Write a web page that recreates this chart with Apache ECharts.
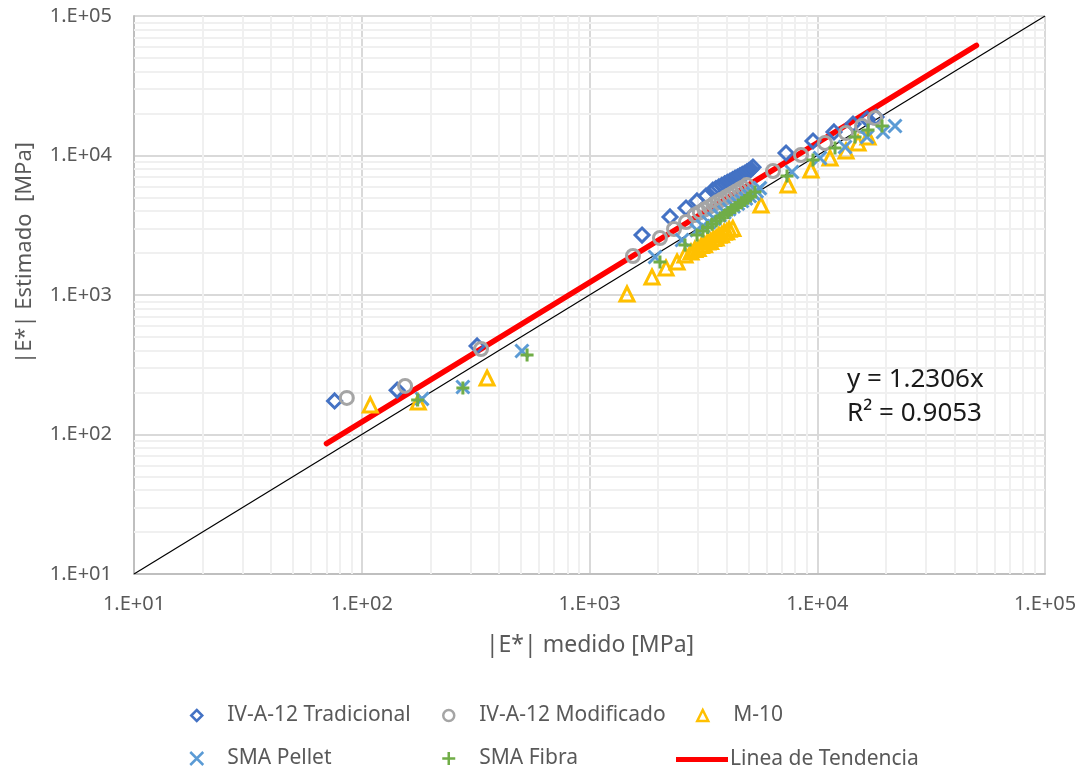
<!DOCTYPE html>
<html>
<head>
<meta charset="utf-8">
<script src="https://cdn.jsdelivr.net/npm/echarts@6/dist/echarts.min.js"></script>
<style>html,body{margin:0;padding:0;background:#fff}#c{width:1081px;height:773px}</style>
</head>
<body>
<div id="c"></div>
<script>
// ---- data ([|E*| medido, |E*| estimado] in MPa) ----
const tradicional = [
  [76,174],[143,208],[321,431],
  [1701,2692],[2257,3624],[2653,4204],[2965,4720],[3247,5125],
  [3480,5640],[3590,5800],[3700,5950],[3810,6110],[3920,6260],[4030,6420],[4140,6560],[4250,6720],
  [4360,6870],[4470,7010],[4580,7160],[4690,7310],[4800,7460],[4910,7620],[5010,7780],[5110,7950],[5220,8250],
  [7293,10421],[9580,12704],[11845,14742],[14354,16820],[16540,18260],[18115,18880]
];
const modificado = [
  [86,183],[155,223],[334,410],
  [1552,1904],[2039,2562],[2350,2972],[2653,3337],
  [2900,3740],[3050,3920],[3200,4100],[3350,4280],[3500,4460],[3650,4640],[3800,4820],[3950,4990],
  [4100,5170],[4250,5340],[4400,5520],[4550,5700],[4700,5880],[4900,6140],
  [6393,7745],[8484,10083],[10815,12290],[13374,14500],[15730,16270],[17930,18570]
];
const m10 = [
  [109,163],[177,171],[355,254],
  [1461,1017],[1881,1346],[2167,1561],[2423,1724],[2626,1935],[2790,2033],
  [2900,2120],[3000,2150],[3100,2260],[3200,2290],[3300,2400],[3400,2420],[3500,2540],[3600,2560],
  [3700,2680],[3800,2700],[3900,2820],[4000,2840],[4100,2960],[4260,3000],
  [5662,4418],
  [7442,6145],[9389,7875],[11376,9597],[13374,10773],[15100,12290],[16710,13570]
];
const smaPellet = [
  [184,180],[278,219],[505,397],
  [1940,1873],[2548,2480],
  [2960,2920],[3150,3120],[3340,3320],[3530,3520],[3720,3720],[3910,3920],[4100,4120],[4290,4320],
  [4480,4520],[4670,4720],[4860,4920],[5050,5120],[5240,5330],[5420,5540],[5600,5840],
  [7748,7617],[10283,9597],[13240,11510],[16540,13570],[19444,14742],[21950,16270]
];
const smaFibra = [
  [176,177],[278,215],[532,372],
  [2039,1724],[2626,2282],[2965,2692],
  [3150,2880],[3300,3050],[3450,3220],[3600,3390],[3750,3560],[3900,3730],[4050,3900],[4200,4070],
  [4350,4240],[4500,4410],[4650,4580],[4800,4750],[4950,4930],[5100,5130],[5330,5470],
  [7367,7129],[9580,9284],[11966,11320],[14650,13570],[16710,15230],[19250,16270]
];
const trendLine = [[70,86],[50000,61530]];          // y = 1.2306x
const identityLine = [[10,10],[100000,100000]];      // y = x
const tickLabels = ['1.E+01','1.E+02','1.E+03','1.E+04','1.E+05'];
const minorGrid = [20,30,40,50,60,70,80,90,200,300,400,500,600,700,800,900,
  2000,3000,4000,5000,6000,7000,8000,9000,20000,30000,40000,50000,60000,70000,80000,90000];
const seriesNames = ['IV-A-12 Tradicional','IV-A-12 Modificado','M-10','SMA Pellet','SMA Fibra','Linea de Tendencia'];

const FONT = 'Noto Sans';
const GREY = '#595959';
const crossPath = 'path://M0,0L10,10M10,0L0,10';
const plusPath = 'path://M5,0L5,10M0,5L10,5';

function fmt(v){ const i = Math.round(Math.log10(v)) - 1; return tickLabels[i] || ''; }

function scatter(name, data, symbol, color, size, bw){
  return {
    name, type:'scatter', data, symbol, symbolSize:size, z:5,
    itemStyle:{color:'rgba(255,255,255,0)', borderColor:color, borderWidth:bw, opacity:1},
    emphasis:{disabled:true}, animation:false
  };
}

const minorLines = [];
minorGrid.forEach(v => { minorLines.push({xAxis:v}); minorLines.push({yAxis:v}); });

function legendAt(name, left, top, extra){
  return Object.assign({
    data:[name], left, top, padding:0, itemWidth:11, itemHeight:11,
    selectedMode:false,
    itemStyle:{borderWidth:2.5},
    textStyle:{fontFamily:FONT, fontSize:21, color:GREY, padding:[0,0,0,20]}
  }, extra || {});
}

const option = {
  animation:false,
  grid:{left:134, right:36, top:16, bottom:199},
  xAxis:{
    type:'log', logBase:10, min:10, max:100000,
    axisLine:{lineStyle:{color:'#bfbfbf', width:2}},
    axisTick:{show:false},
    axisLabel:{formatter:fmt, fontFamily:FONT, fontSize:20, color:GREY, margin:20},
    splitLine:{show:true, lineStyle:{color:'#d9d9d9', width:2}}
  },
  yAxis:{
    type:'log', logBase:10, min:10, max:100000,
    axisLine:{show:true, lineStyle:{color:'#bfbfbf', width:2}},
    axisTick:{show:false},
    axisLabel:{formatter:fmt, fontFamily:FONT, fontSize:20, color:GREY, margin:22},
    splitLine:{show:true, lineStyle:{color:'#d9d9d9', width:2}}
  },
  legend:[
    legendAt(seriesNames[0], 190, 705),
    legendAt(seriesNames[1], 442, 705),
    legendAt(seriesNames[2], 696, 705),
    legendAt(seriesNames[3], 189, 748, {itemWidth:13, itemHeight:13,
      textStyle:{fontFamily:FONT, fontSize:21, color:GREY, padding:[0,0,0,19]}}),
    legendAt(seriesNames[4], 441, 748, {itemWidth:13, itemHeight:13,
      textStyle:{fontFamily:FONT, fontSize:21, color:GREY, padding:[0,0,0,19]}}),
    legendAt(seriesNames[5], 676, 749, {icon:'rect', itemWidth:52, itemHeight:5, itemStyle:{},
      textStyle:{fontFamily:FONT, fontSize:21, color:GREY, padding:[0,0,0,-3]}})
  ],
  graphic:[
    {type:'text', x:590, y:645, z:10, style:{text:'|E*| medido [MPa]', fontFamily:FONT, fontSize:23, fill:GREY, textAlign:'center', textVerticalAlign:'middle'}},
    {type:'text', x:25, y:253, rotation:Math.PI/2, z:10, style:{text:'|E*| Estimado  [MPa]', fontFamily:FONT, fontSize:22, fill:GREY, textAlign:'center', textVerticalAlign:'middle'}},
    {type:'text', x:847, y:380, z:10, style:{text:'y = 1.2306x', fontFamily:FONT, fontSize:26, fill:'#1a1a1a', textAlign:'left', textVerticalAlign:'middle'}},
    {type:'text', x:847, y:414, z:10, style:{text:'R² = 0.9053', fontFamily:FONT, fontSize:26, fill:'#1a1a1a', textAlign:'left', textVerticalAlign:'middle'}}
  ],
  series:[
    {
      name:'minor', type:'scatter', data:[[10,10]], symbolSize:0, z:1, silent:true,
      markLine:{z:1, silent:true, symbol:['none','none'], label:{show:false}, animation:false,
        lineStyle:{color:'#f0f0f0', width:2, type:'solid'}, emphasis:{disabled:true}, data:minorLines}
    },
    {name:'identity', type:'line', data:identityLine, symbol:'none', z:3, silent:true,
      lineStyle:{color:'#000', width:1.2}},
    {name:seriesNames[5], type:'line', data:trendLine, symbol:'none', z:4, silent:true,
      itemStyle:{color:'#ff0000'}, lineStyle:{color:'#ff0000', width:5.5, cap:'round'}},
    scatter(seriesNames[0], tradicional, 'diamond', '#4472C4', 14, 3),
    scatter(seriesNames[1], modificado, 'circle', '#A5A5A5', 13, 3),
    scatter(seriesNames[2], m10, 'triangle', '#FFC000', 14, 3),
    scatter(seriesNames[3], smaPellet, crossPath, '#5B9BD5', 13, 3),
    scatter(seriesNames[4], smaFibra, plusPath, '#70AD47', 13, 3)
  ]
};
echarts.init(document.getElementById('c')).setOption(option);
</script>
</body>
</html>
